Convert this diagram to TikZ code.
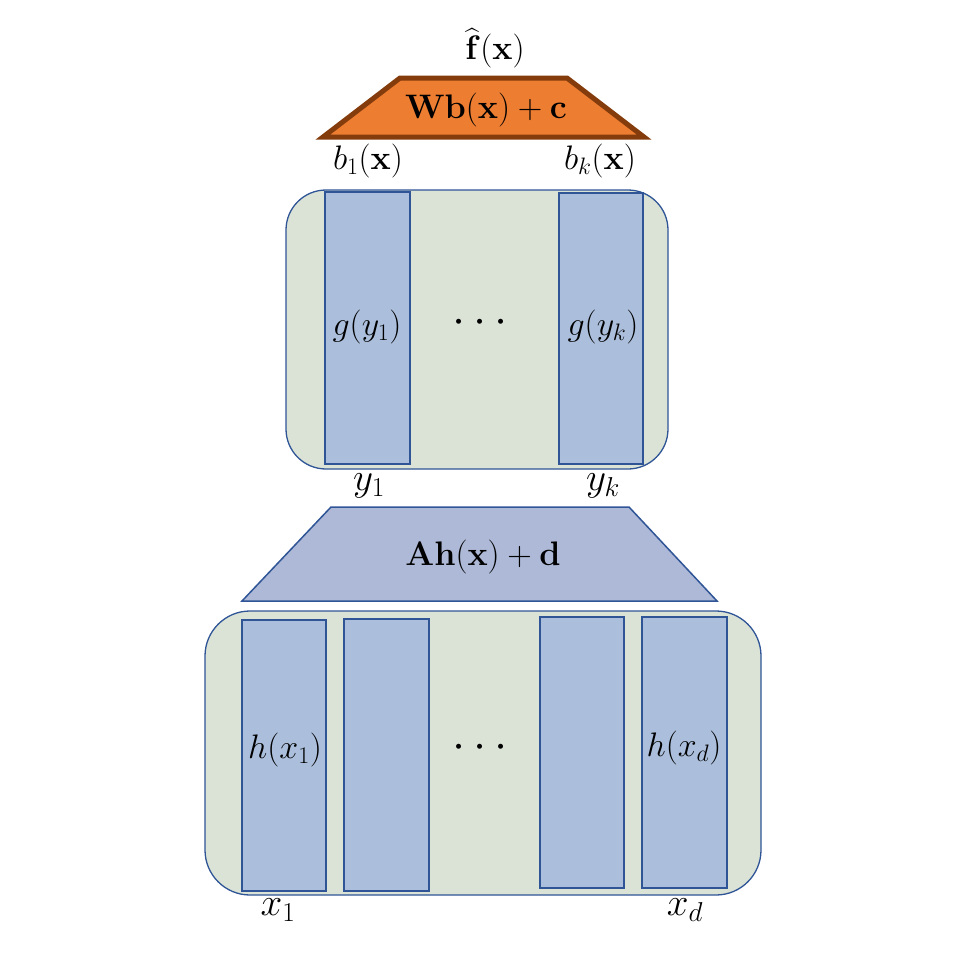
\documentclass[tikz,border=0pt]{standalone}
\usepackage{amsmath}
\usepackage{fix-cm}
\definecolor{orfill}{HTML}{ED7D31}
\definecolor{ordraw}{HTML}{843C0C}
\definecolor{bxdraw}{HTML}{2F5597}
\definecolor{bxfill}{HTML}{ABBFDC}
\definecolor{grfill}{HTML}{DAE3D5}
\definecolor{trfill}{HTML}{ADB9D6}
\tikzset{
  grouprect/.style={draw=bxdraw, fill=grfill, line width=1.3pt, rounded corners=40pt},
  unitbox/.style={draw=bxdraw, fill=bxfill, line width=1.5pt, inner sep=0pt},
  lbl/.style={inner sep=0pt, font=\fontsize{34}{40}\selectfont},
  biglbl/.style={inner sep=0pt, font=\fontsize{39}{46}\selectfont},
  dotslbl/.style={inner sep=0pt, font=\fontsize{47}{56}\selectfont},
}
\begin{document}
\begin{tikzpicture}[x=1pt,y=-1pt]
\useasboundingbox (0,0) rectangle (958,958);
% top trapezoid
\draw[fill=orfill, draw=ordraw, line width=5pt, line join=miter]
  (400,78) -- (567,78) -- (644,137) -- (323,137) -- cycle;
\node[lbl] (wb) at (486,110) {$\mathbf{Wb}(\mathbf{x})+\mathbf{c}$};
\node[lbl] (fhat) at (495,48) {$\widehat{\mathbf{f}}(\mathbf{x})$};
\node[lbl] (b1) at (368,161) {$b_1(\mathbf{x})$};
\node[lbl] (bk) at (600,161) {$b_k(\mathbf{x})$};
% upper group
\node[grouprect, minimum width=382pt, minimum height=279pt] (ugrp) at (477,329.5) {};
\node[unitbox, minimum width=85pt, minimum height=272pt] (g1) at (367.5,328) {};
\node[unitbox, minimum width=84pt, minimum height=271pt] (gk) at (601,328.5) {};
\node[lbl] (g1t) at (367,327) {$g(y_1)$};
\node[lbl] (gkt) at (603,327) {$g(y_k)$};
\node[dotslbl] (gdots) at (484,323) {$\cdots$};
\node[biglbl] (y1) at (369,486) {$y_1$};
\node[biglbl] (yk) at (603,486) {$y_k$};
% middle trapezoid
\draw[fill=trfill, draw=bxdraw, line width=1.5pt]
  (331,507) -- (629,507) -- (717,601) -- (242,601) -- cycle;
\node[lbl] (ah) at (483,557) {$\mathbf{Ah}(\mathbf{x})+\mathbf{d}$};
% lower group
\node[grouprect, rounded corners=45pt, minimum width=556pt, minimum height=284pt] (lgrp) at (483,753) {};
\node[unitbox, minimum width=84pt, minimum height=271pt] (h1) at (284,755.5) {};
\node[unitbox, minimum width=85pt, minimum height=272pt] (h2) at (386.5,755) {};
\node[unitbox, minimum width=84pt, minimum height=271pt] (h3) at (582,752.5) {};
\node[unitbox, minimum width=85pt, minimum height=271pt] (hd) at (684.5,752.5) {};
\node[lbl] (h1t) at (285,750) {$h(x_1)$};
\node[lbl] (hdt) at (684,748) {$h(x_d)$};
\node[dotslbl] (hdots) at (484,748) {$\cdots$};
\node[biglbl] (x1) at (278,910) {$x_1$};
\node[biglbl] (xd) at (685,910) {$x_d$};
\end{tikzpicture}
\end{document}
